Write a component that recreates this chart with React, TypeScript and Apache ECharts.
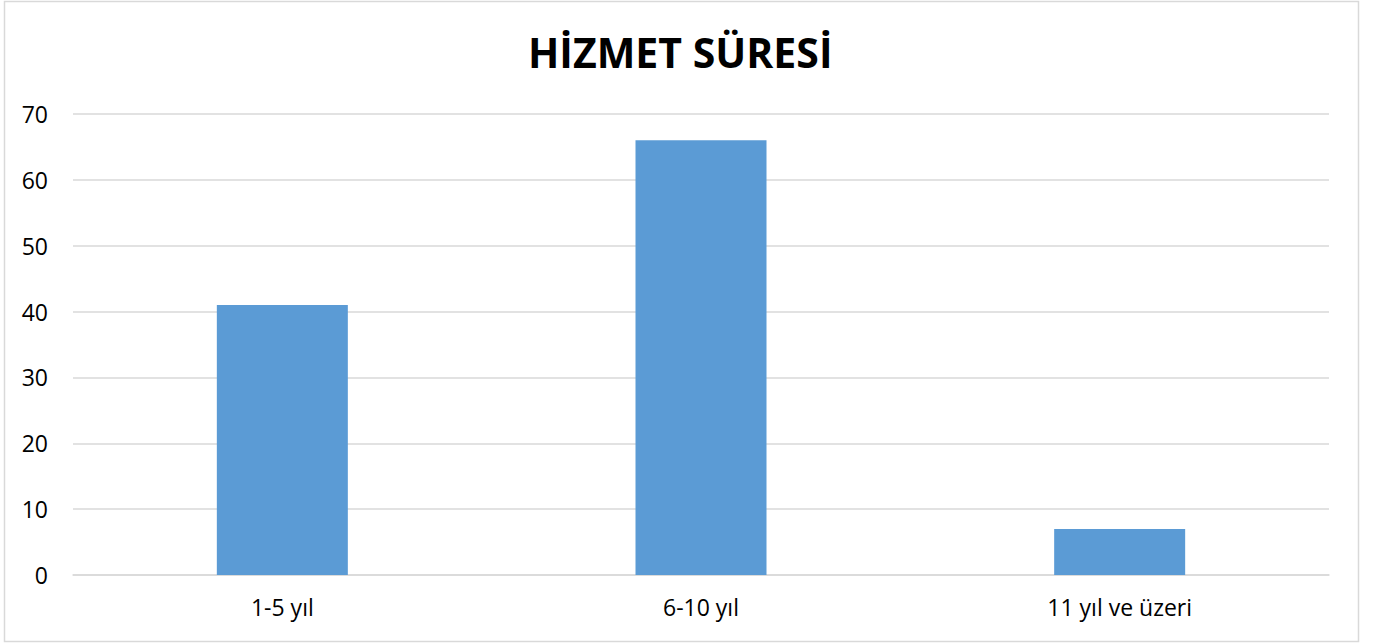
import React, { useEffect, useRef } from "react";
import * as echarts from "echarts";

const categories = ["1-5 yıl", "6-10 yıl", "11 yıl ve üzeri"];
const values = [41, 66, 7];
const yTicks = { min: 0, max: 70, interval: 10 };
const titleText = "HİZMET SÜRESİ";

export default function App() {
  const ref = useRef<HTMLDivElement>(null);
  useEffect(() => {
    const chart = echarts.init(ref.current!, null, { renderer: "svg" });
    chart.setOption({
      animation: false,
      backgroundColor: "#ffffff",
      title: {
        text: titleText,
        left: 523,
        top: 26,
        textStyle: {
          fontFamily: "Open Sans",
          fontWeight: "bold",
          fontSize: 41,
          color: "#000000",
        },
      },
      graphic: [
        {
          type: "rect",
          shape: { x: 4.5, y: 1.5, width: 1354, height: 640 },
          style: { fill: "none", stroke: "#d9d9d9", lineWidth: 1.5 },
          silent: true,
        },
      ],
      grid: { left: 73, right: 45, top: 114, bottom: 69 },
      xAxis: {
        type: "category",
        data: categories,
        axisLine: { show: true, lineStyle: { color: "#d9d9d9", width: 1.5 } },
        axisTick: { show: false },
        axisLabel: {
          color: "#000000",
          fontSize: 23,
          fontFamily: "Open Sans",
          margin: 20,
        },
      },
      yAxis: {
        type: "value",
        min: yTicks.min,
        max: yTicks.max,
        interval: yTicks.interval,
        axisLine: { show: false },
        axisTick: { show: false },
        splitLine: { lineStyle: { color: "#d9d9d9", width: 1.5 } },
        axisLabel: {
          color: "#000000",
          fontSize: 23,
          fontFamily: "Open Sans",
          margin: 25,
        },
      },
      series: [
        {
          type: "bar",
          data: values,
          barWidth: 131,
          itemStyle: { color: "#5b9bd5" },
        },
      ],
    });
    return () => chart.dispose();
  }, []);
  return (
    <div
      ref={ref}
      style={{ position: "absolute", left: 0, top: 0, width: 1374, height: 644 }}
    />
  );
}
